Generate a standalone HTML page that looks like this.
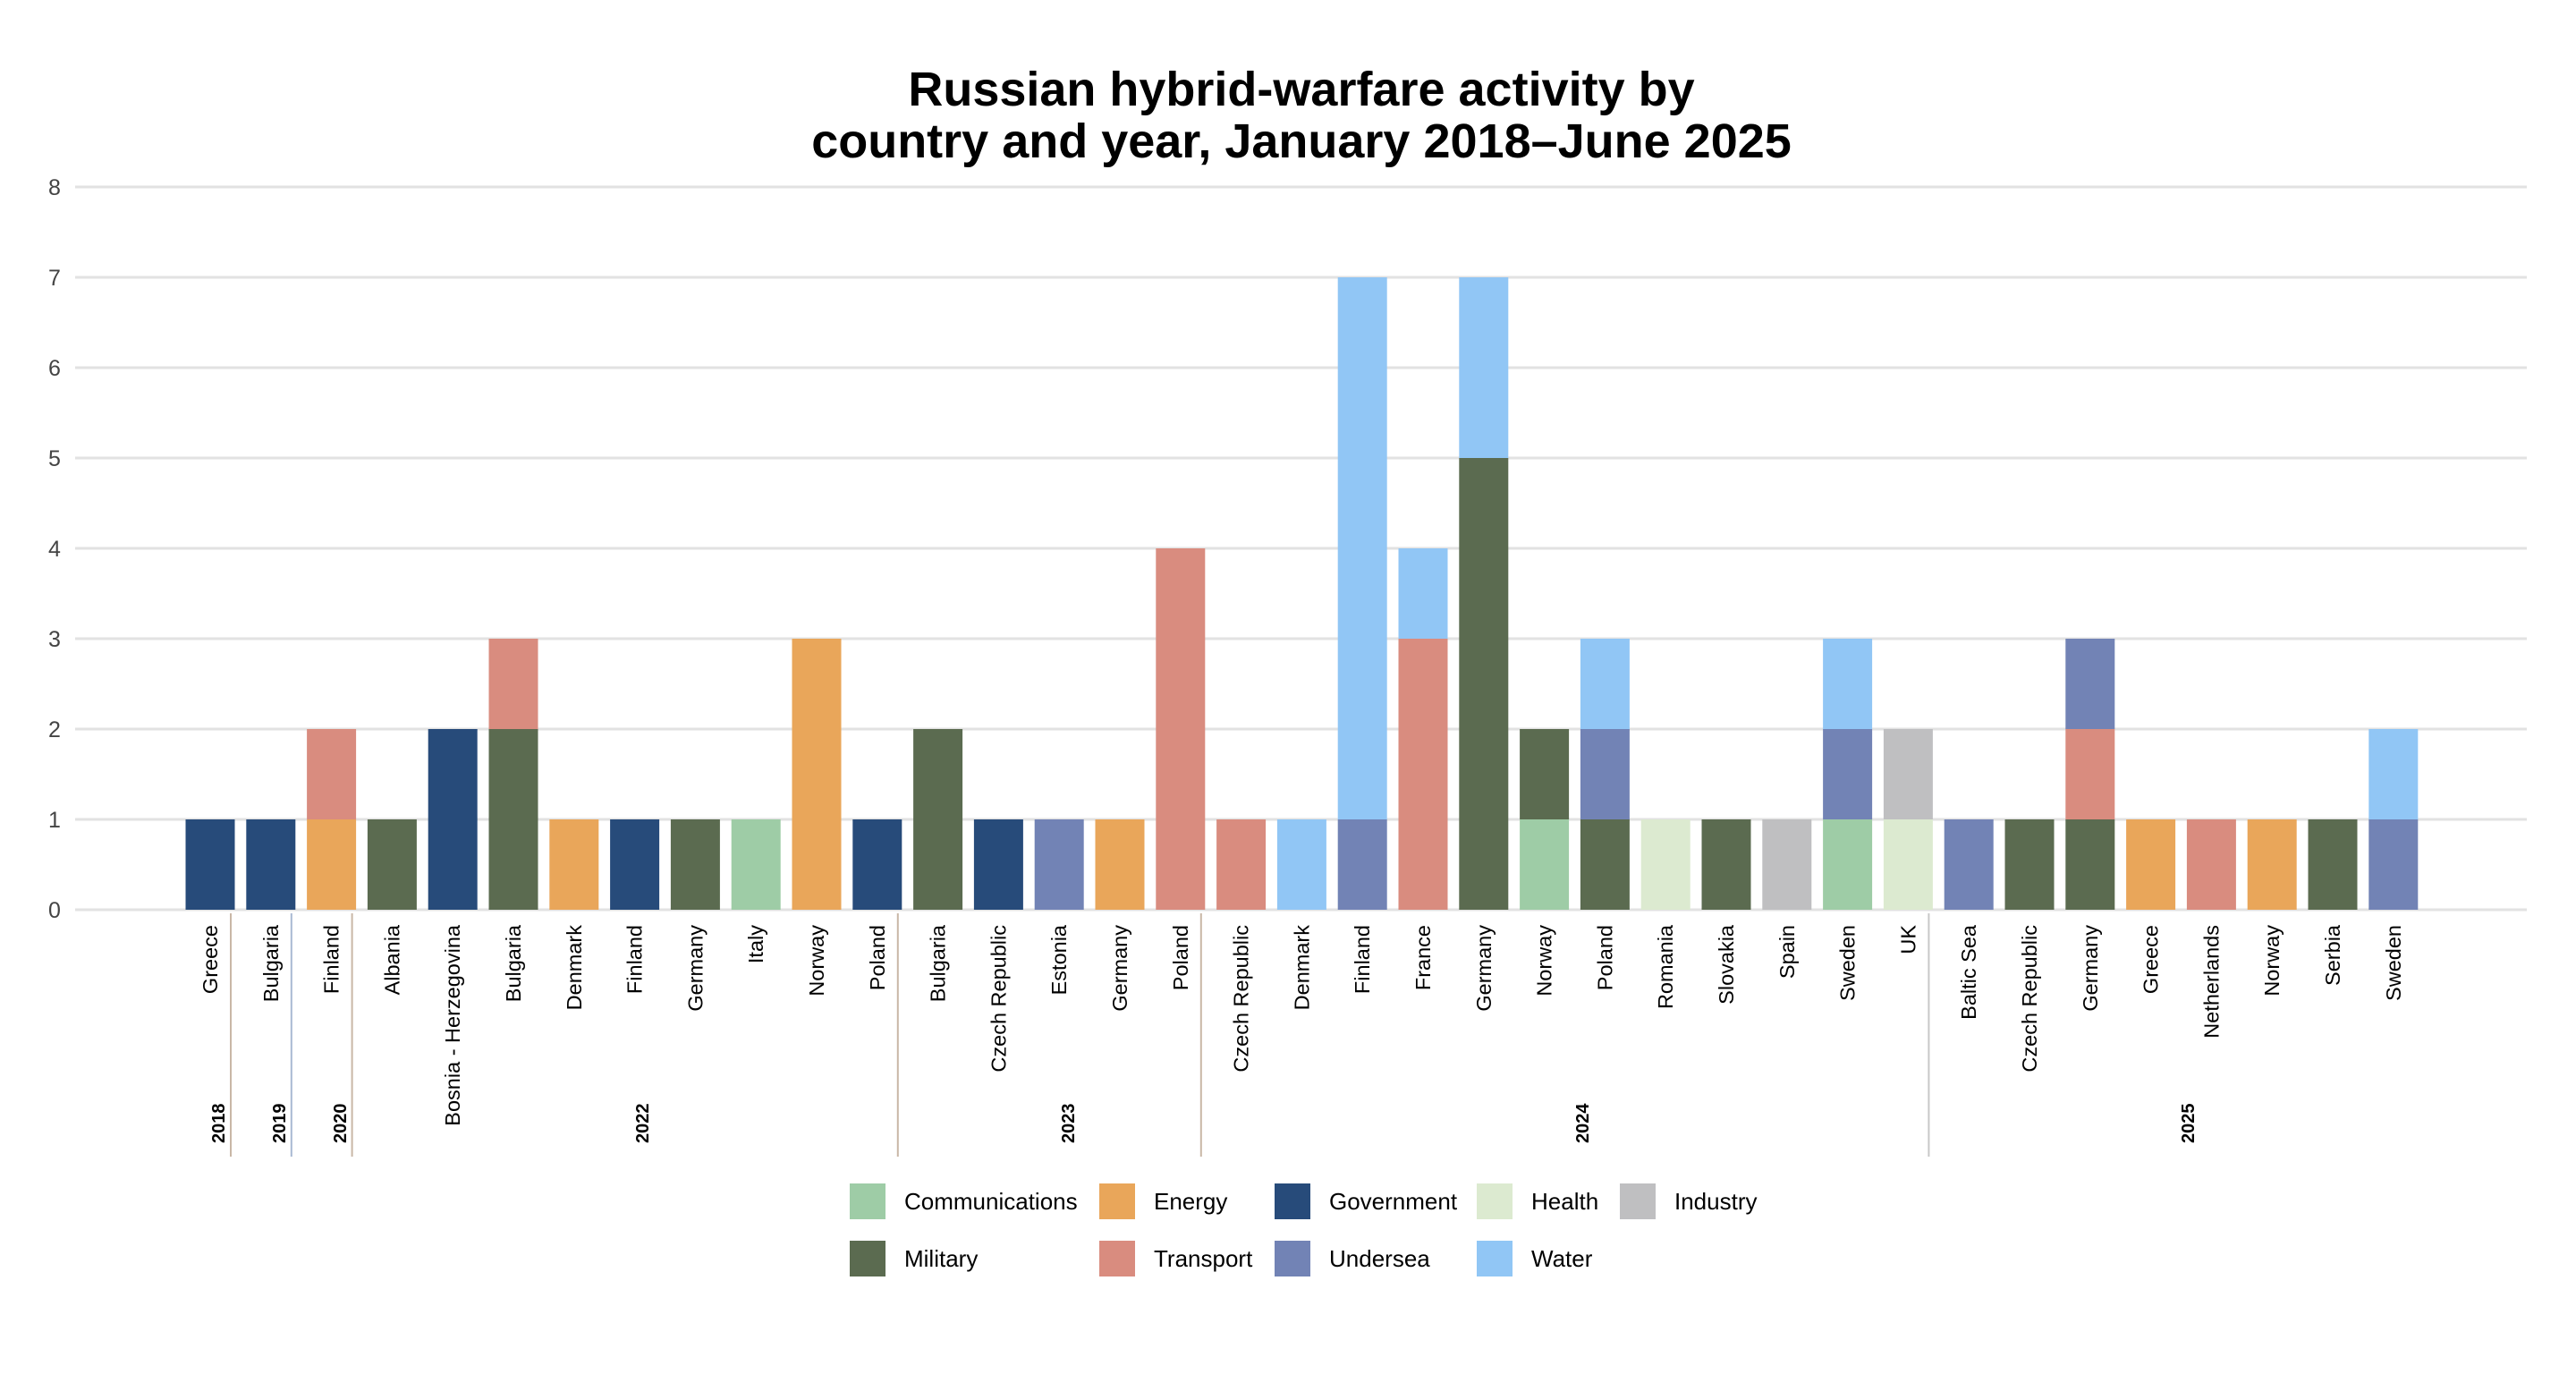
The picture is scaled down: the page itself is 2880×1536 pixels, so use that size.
<!DOCTYPE html>
<html><head><meta charset="utf-8"><style>
html,body{margin:0;padding:0;background:#fff;}
svg{display:block;font-family:"Liberation Sans",sans-serif;}
</style></head><body>
<svg id="s" width="2880" height="1536" viewBox="0 0 2880 1536" xmlns="http://www.w3.org/2000/svg">
<text x="1455" y="118" text-anchor="middle" font-size="54" font-weight="bold" fill="#000">Russian hybrid-warfare activity by</text>
<text x="1455" y="176" text-anchor="middle" font-size="54" font-weight="bold" fill="#000">country and year, January 2018–June 2025</text>
</svg>
<script>
const s=document.getElementById('s');const NS='http://www.w3.org/2000/svg';
function el(t,a,txt){const e=document.createElementNS(NS,t);for(const k in a)e.setAttribute(k,a[k]);if(txt!==undefined)e.textContent=txt;s.appendChild(e);return e;}
const C={comm:'#9ecca6',energy:'#e9a65a',gov:'#274b7a',health:'#dcead0',ind:'#bfbfc1',mil:'#5b6b50',trans:'#d98c7f',under:'#7283b5',water:'#91c6f5'};
const y0=1017,u=101;
for(let v=0;v<=8;v++){const y=y0-v*u;el('line',{x1:84,x2:2825,y1:y,y2:y,stroke:'#e2e2e2','stroke-width':3});
el('text',{x:61,y:y+9,'text-anchor':'middle','font-size':25,fill:'#444'},String(v));}
const D=[
['Greece',[['gov',1]]],['Bulgaria',[['gov',1]]],['Finland',[['energy',1],['trans',1]]],
['Albania',[['mil',1]]],['Bosnia - Herzegovina',[['gov',2]]],['Bulgaria',[['mil',2],['trans',1]]],['Denmark',[['energy',1]]],['Finland',[['gov',1]]],['Germany',[['mil',1]]],['Italy',[['comm',1]]],['Norway',[['energy',3]]],['Poland',[['gov',1]]],
['Bulgaria',[['mil',2]]],['Czech Republic',[['gov',1]]],['Estonia',[['under',1]]],['Germany',[['energy',1]]],['Poland',[['trans',4]]],
['Czech Republic',[['trans',1]]],['Denmark',[['water',1]]],['Finland',[['under',1],['water',6]]],['France',[['trans',3],['water',1]]],['Germany',[['mil',5],['water',2]]],['Norway',[['comm',1],['mil',1]]],['Poland',[['mil',1],['under',1],['water',1]]],['Romania',[['health',1]]],['Slovakia',[['mil',1]]],['Spain',[['ind',1]]],['Sweden',[['comm',1],['under',1],['water',1]]],['UK',[['health',1],['ind',1]]],
['Baltic Sea',[['under',1]]],['Czech Republic',[['mil',1]]],['Germany',[['mil',1],['trans',1],['under',1]]],['Greece',[['energy',1]]],['Netherlands',[['trans',1]]],['Norway',[['energy',1]]],['Serbia',[['mil',1]]],['Sweden',[['under',1],['water',1]]]];
const bw=55;
D.forEach((d,i)=>{const cx=235+i*67.8;let acc=0;
d[1].forEach(([k,n])=>{el('rect',{x:cx-bw/2,y:y0-(acc+n)*u,width:bw,height:n*u,fill:C[k]});acc+=n;});
el('text',{x:0,y:0,transform:`translate(${cx+8},1034) rotate(-90)`,'text-anchor':'end','font-size':23.5,fill:'#000'},d[0]);});
[[0,'#c9b7a6'],[1,'#a9b9d3'],[2,'#c9b7a6'],[11,'#c9b7a6'],[16,'#c9b7a6'],[28,'#c8c8c8']].forEach(([i,c])=>{const x=235+i*67.8+23;el('line',{x1:x,x2:x,y1:1021,y2:1293,stroke:c,'stroke-width':2});});
[['2018',244],['2019',312],['2020',380],['2022',718],['2023',1194],['2024',1769],['2025',2446]].forEach(([t,x])=>{
el('text',{x:0,y:0,transform:`translate(${x+7},1278) rotate(-90)`,'font-size':20,'font-weight':'bold',fill:'#000'},t);});
const L=[['comm','Communications',950,1343],['energy','Energy',1229,1343],['gov','Government',1425,1343],['health','Health',1651,1343],['ind','Industry',1811,1343],
['mil','Military',950,1407],['trans','Transport',1229,1407],['under','Undersea',1425,1407],['water','Water',1651,1407]];
L.forEach(([k,t,x,y])=>{el('rect',{x:x,y:y-20,width:40,height:40,fill:C[k]});el('text',{x:x+61,y:y+9,'font-size':26,fill:'#000'},t);});
</script>
</body></html>
